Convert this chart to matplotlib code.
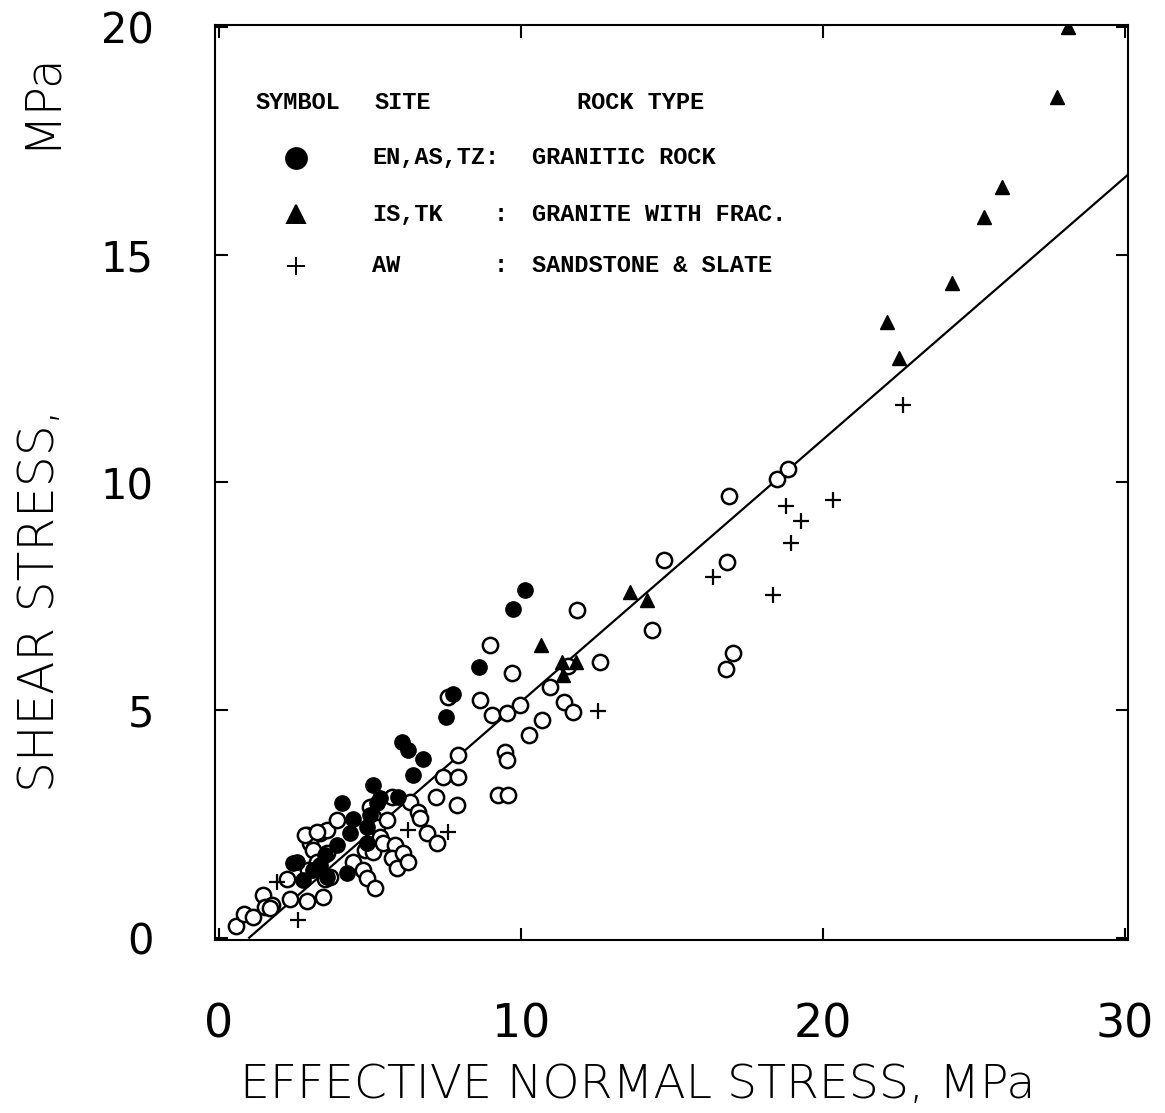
import matplotlib
matplotlib.use("Agg")
import matplotlib.pyplot as plt
import numpy as np

# EN, AS, TZ : granitic rock (filled circles)
granitic_x = [10.13, 9.74, 8.61, 7.75, 7.52, 6.06, 6.26, 6.75, 6.42, 5.10, 5.33, 5.93,
              4.07, 4.34, 4.90, 3.91, 2.58, 3.34, 3.58, 2.78, 4.24, 2.45, 3.51, 5.23,
              5.00, 4.90, 3.11, 4.44]
granitic_y = [7.64, 7.22, 5.95, 5.36, 4.85, 4.30, 4.13, 3.93, 3.58, 3.36, 3.07, 3.10,
              2.96, 2.31, 2.44, 2.04, 1.67, 1.60, 1.34, 1.27, 1.43, 1.65, 1.82, 2.96,
              2.70, 2.09, 1.49, 2.60]

# other sites, no legend entry (open circles)
open_x = [0.56, 0.83, 1.13, 1.46, 1.52, 1.75, 1.69, 2.25, 2.35, 2.91, 3.44, 3.51,
          2.91, 3.01, 3.11, 3.34, 3.58, 3.91, 3.25, 3.58, 3.68, 2.95, 4.44, 4.77,
          4.90, 5.17, 4.83, 5.10, 5.00, 5.10, 5.23, 5.33, 5.43, 5.73, 5.56, 5.83,
          5.73, 5.89, 6.09, 6.26, 6.32, 6.59, 6.66, 6.89, 7.22, 7.19, 7.42, 7.91,
          7.88, 7.91, 7.58, 8.64, 9.04, 9.54, 9.47, 9.54, 9.24, 9.57, 8.97, 9.70,
          9.97, 10.96, 11.56, 12.62, 11.42, 11.72, 10.70, 10.26, 11.85, 16.89, 18.48,
          18.84, 14.74, 16.82, 14.34, 17.02, 16.79, 2.85, 3.25]
open_y = [0.26, 0.53, 0.46, 0.94, 0.68, 0.72, 0.66, 1.30, 0.86, 0.81, 0.90, 1.30,
          2.26, 2.09, 1.93, 2.31, 2.37, 2.59, 1.67, 1.87, 1.34, 1.49, 1.67, 1.49,
          1.32, 1.10, 1.93, 1.89, 2.88, 2.66, 2.44, 2.22, 2.09, 3.10, 2.59, 2.04,
          1.76, 1.54, 1.87, 1.67, 2.99, 2.77, 2.63, 2.31, 2.09, 3.10, 3.53, 3.53,
          2.92, 4.02, 5.29, 5.23, 4.90, 4.94, 4.08, 3.91, 3.14, 3.14, 6.43, 5.82,
          5.12, 5.51, 5.97, 6.06, 5.18, 4.96, 4.79, 4.46, 7.20, 9.70, 10.08,
          10.30, 8.30, 8.25, 6.76, 6.26, 5.90, 2.26, 2.33]

# IS, TK : granite with fractures (triangles)
frac_x = [28.11, 27.75, 25.93, 25.33, 24.27, 22.12, 22.52, 13.61, 14.17, 10.66,
          11.36, 11.82, 11.39]
frac_y = [20.00, 18.46, 16.49, 15.83, 14.38, 13.52, 12.73, 7.60, 7.42, 6.43,
          6.06, 6.06, 5.77]

# AW : sandstone & slate (plus)
sand_x = [1.92, 2.62, 6.26, 7.58, 12.55, 16.36, 18.34, 18.77, 19.27, 18.94, 20.33, 22.65]
sand_y = [1.23, 0.40, 2.37, 2.33, 4.98, 7.93, 7.53, 9.48, 9.15, 8.67, 9.62, 11.70]

# fitted line
fit_x = [1.0, 30.1]
fit_slope = 0.576

x_ticks = [0, 10, 20, 30]
y_ticks = [0, 5, 10, 15, 20]

fig = plt.figure(figsize=(11.65, 11.13), dpi=100)
ax = fig.add_axes([215 / 1165, 1 - 940 / 1113, 913 / 1165, 915 / 1113])

fit_y = [fit_slope * (v - fit_x[0]) for v in fit_x]
ax.plot(fit_x, fit_y, color="black", lw=1.6, zorder=1)

ax.plot(open_x, open_y, "o", ms=11, mfc="white", mec="black", mew=1.8,
        ls="none", zorder=2)
ax.plot(granitic_x, granitic_y, "o", ms=11, mfc="black", mec="black",
        ls="none", zorder=3)
ax.plot(frac_x, frac_y, "^", ms=10.5, mfc="black", mec="black",
        ls="none", zorder=3)
ax.plot(sand_x, sand_y, "+", ms=12, mec="black", mew=1.6,
        ls="none", zorder=3)

ax.set_xlim(-0.13, 30.1)
ax.set_ylim(-0.05, 20.05)
ax.set_xticks(x_ticks)
ax.set_yticks(y_ticks)
ax.tick_params(direction="in", length=9, width=1.5, top=True, right=True)
ax.tick_params(axis="x", pad=45, labelsize=33)
ax.tick_params(axis="y", pad=44, labelsize=30)
for sp in ax.spines.values():
    sp.set_linewidth(1.5)

# axis titles
fig.text(0.5 * (245 + 1030) / 1165, 1 - 1085 / 1113, "EFFECTIVE NORMAL STRESS, MPa",
         ha="center", va="center", fontsize=34, fontweight="light")
fig.text(40 / 1165, 1 - 600 / 1113, "SHEAR STRESS,", rotation=90,
         ha="center", va="center", fontsize=35, fontweight="light")
fig.text(40 / 1165, 1 - 100 / 1113, "MPa", rotation=90,
         ha="center", va="center", fontsize=35, fontweight="light")

# legend table
lfont = dict(family="Liberation Mono", fontweight="bold", fontsize=17,
             va="center", ha="left", transform=ax.transAxes)
ax.text(0.044, 0.915, "SYMBOL", **lfont)
ax.text(0.175, 0.915, "SITE", **lfont)
ax.text(0.396, 0.915, "ROCK TYPE", **lfont)

rows_y = [0.855, 0.793, 0.737]
sites = ["EN,AS,TZ:", "IS,TK", "AW"]
rocks = ["GRANITIC ROCK", "GRANITE WITH FRAC.", "SANDSTONE & SLATE"]
symbols = [("o", 15), ("^", 13), ("+", 13)]
for ry, site, rock, (mk, sz) in zip(rows_y, sites, rocks, symbols):
    ax.plot([0.0887], [ry], mk, ms=sz, color="black", mew=1.4,
            transform=ax.transAxes, clip_on=False)
    ax.text(0.172, ry, site, **lfont)
    if not site.endswith(":"):
        ax.text(0.305, ry, ":", **lfont)
    ax.text(0.347, ry, rock, **lfont)

fig.savefig("out.png", dpi=100)
